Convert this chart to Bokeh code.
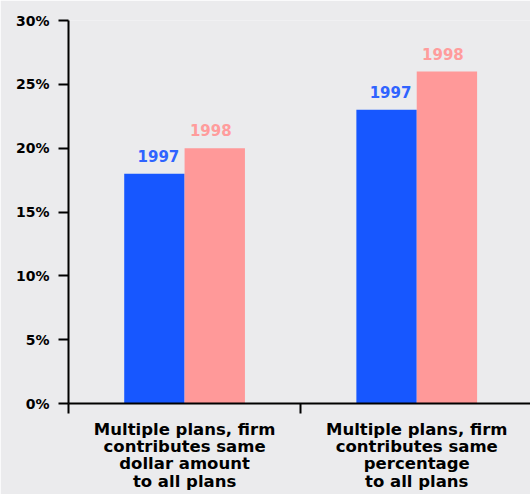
from bokeh.plotting import figure
from bokeh.models import Range1d, FixedTicker, ColumnDataSource
from bokeh.core.properties import value
from bokeh.embed import file_html
from bokeh.resources import INLINE

categories = ["Multiple plans, firm\ncontributes same\ndollar amount\nto all plans",
              "Multiple plans, firm\ncontributes same\npercentage\nto all plans"]
years = ["1997", "1998"]
values_1997 = [18, 23]
values_1998 = [20, 26]
y_ticks = [0, 5, 10, 15, 20, 25, 30]
y_tick_labels = ["0%", "5%", "10%", "15%", "20%", "25%", "30%"]

BLUE = "#1757ff"
PINK = "#ff9999"
BLUE_TXT = "#2f63ff"
PINK_TXT = "#ff9c9c"
FONT = "DejaVu Sans"
BW = 0.26

p = figure(width=530, height=494, output_backend="svg", toolbar_location=None,
           x_range=Range1d(0, 1.99), y_range=Range1d(0, 30),
           min_border_left=68, min_border_right=0, min_border_top=20, min_border_bottom=91)
p.background_fill_color = "#ebebed"
p.border_fill_color = "#ebebed"
p.outline_line_color = None
p.xgrid.grid_line_color = None
p.ygrid.grid_line_color = None

centers = [0.5 + i for i in range(len(categories))]
src97 = ColumnDataSource(dict(x=[c - BW / 2 for c in centers], top=values_1997,
                              lab=[years[0]] * len(centers)))
src98 = ColumnDataSource(dict(x=[c + BW / 2 for c in centers], top=values_1998,
                              lab=[years[1]] * len(centers)))
p.vbar(x="x", top="top", width=BW, source=src97, fill_color=BLUE, line_color=None)
p.vbar(x="x", top="top", width=BW, source=src98, fill_color=PINK, line_color=None)

p.text(x="x", y="top", text="lab", source=src97, text_color=BLUE_TXT,
       text_font=value(FONT), text_font_style="bold", text_font_size="15px",
       text_align="center", text_baseline="alphabetic", y_offset=-18, x_offset=4)
p.text(x="x", y="top", text="lab", source=src98, text_color=PINK_TXT,
       text_font=value(FONT), text_font_style="bold", text_font_size="15px",
       text_align="center", text_baseline="alphabetic", y_offset=-18, x_offset=-4)

# x axis
p.xaxis.ticker = FixedTicker(ticks=centers, minor_ticks=[0, 1, 2])
p.xaxis.major_label_overrides = {c: lab for c, lab in zip(centers, categories)}
p.xaxis.major_tick_out = 0
p.xaxis.major_tick_in = 0
p.xaxis.minor_tick_out = 10
p.xaxis.minor_tick_in = 0
p.xaxis.minor_tick_line_color = "black"
p.xaxis.minor_tick_line_width = 2
p.xaxis.axis_line_width = 2
p.xaxis.axis_line_color = "black"
p.xaxis.major_label_text_font = FONT
p.xaxis.major_label_text_font_style = "bold"
p.xaxis.major_label_text_font_size = "16.5px"
p.xaxis.major_label_text_color = "black"
p.xaxis.major_label_text_line_height = 0.92
p.xaxis.major_label_standoff = 6

# y axis
p.yaxis.ticker = FixedTicker(ticks=y_ticks)
p.yaxis.major_label_overrides = {t: l for t, l in zip(y_ticks, y_tick_labels)}
p.yaxis.major_tick_out = 10
p.yaxis.major_tick_in = 0
p.yaxis.minor_tick_out = 0
p.yaxis.minor_tick_in = 0
p.yaxis.major_tick_line_width = 2
p.yaxis.axis_line_width = 2
p.yaxis.axis_line_color = "black"
p.yaxis.major_label_text_font = FONT
p.yaxis.major_label_text_font_style = "bold"
p.yaxis.major_label_text_font_size = "14px"
p.yaxis.major_label_text_color = "black"
p.yaxis.major_label_standoff = 9

open("out.html", "w").write(file_html(p, INLINE))
